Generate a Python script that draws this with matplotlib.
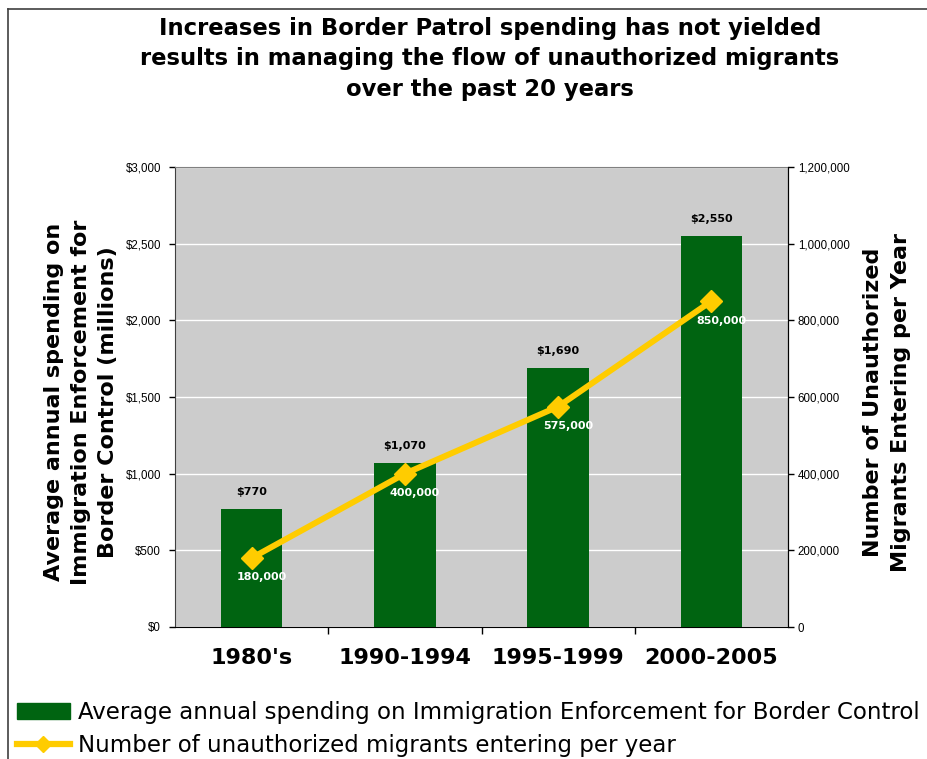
import matplotlib
matplotlib.use("Agg")
import matplotlib.pyplot as plt
from matplotlib.lines import Line2D
from matplotlib.ticker import FuncFormatter

# chart data
periods = ["1980's", "1990-1994", "1995-1999", "2000-2005"]
spending = [770, 1070, 1690, 2550]          # millions of dollars
migrants = [180000, 400000, 575000, 850000]  # per year

bar_color = "#006411"
line_color = "#FFCC00"

fig = plt.figure(figsize=(9.27, 7.59), dpi=100)
ax = fig.add_axes([175 / 927, 1 - 627 / 759, (788 - 175) / 927, (627 - 167) / 759])
ax2 = ax.twinx()

# bars (spending)
x = list(range(len(periods)))
ax.bar(x, spending, width=0.4, color=bar_color, zorder=3)
ax.set_facecolor("#CCCCCC")
ax.set_ylim(0, 3000)
ax.set_xlim(-0.5, len(periods) - 0.5)
ax.set_yticks(range(0, 3001, 500))
ax.yaxis.set_major_formatter(FuncFormatter(lambda v, p: f"${v:,.0f}"))
ax.grid(axis="y", color="white", linewidth=1, zorder=1)
ax.set_axisbelow(True)
for lbl in ax.get_yticklabels():
    lbl.set_fontfamily("Liberation Sans")
    lbl.set_fontsize(8.3)
ax.tick_params(axis="y", length=4, width=1, pad=6)

# category ticks at boundaries, labels in centres
ax.set_xticks([i + 0.5 for i in x[:-1]])
ax.set_xticklabels([])
ax.set_xticks(x, minor=True)
ax.set_xticklabels(periods, minor=True, fontfamily="DejaVu Sans",
                   fontweight="bold", fontsize=16)
ax.tick_params(axis="x", which="major", length=5, width=1)
ax.tick_params(axis="x", which="minor", length=0, pad=15)

ax.spines["top"].set_color("#808080")
ax.spines["left"].set_color("#404040")
for s in ["bottom", "right"]:
    ax.spines[s].set_color("black")

for xi, v in zip(x, spending):
    ax.text(xi, v + 75, f"${v:,}", ha="center", va="bottom",
            fontfamily="DejaVu Sans", fontweight="bold", fontsize=8)

ax.set_ylabel("Average annual spending on\nImmigration Enforcement for\nBorder Control (millions)",
              fontfamily="DejaVu Sans", fontweight="bold", fontsize=16,
              linespacing=1.46, va="center", ha="center")
ax.yaxis.set_label_coords((81 - 175) / 613, (627 - 402) / 460)

# line (migrants)
ax2.plot(x, migrants, color=line_color, linewidth=4.3, marker="D",
         markersize=11, zorder=5)
ax2.set_ylim(0, 1200000)
ax2.set_yticks(range(0, 1200001, 200000))
ax2.yaxis.set_major_formatter(FuncFormatter(lambda v, p: f"{v:,.0f}"))
for lbl in ax2.get_yticklabels():
    lbl.set_fontfamily("Liberation Sans")
    lbl.set_fontsize(8.3)
ax2.tick_params(axis="y", length=4, width=1, pad=3)
for s in ["top", "left", "bottom"]:
    ax2.spines[s].set_visible(False)
ax2.spines["right"].set_color("black")

for xi, v in zip(x, migrants):
    ax2.annotate(f"{v:,}", (xi, v), xytext=(7, -14), textcoords="offset points",
                 ha="center", va="center", color="white",
                 fontfamily="DejaVu Sans", fontweight="bold", fontsize=8)

ax2.set_ylabel("Number of Unauthorized\nMigrants Entering per Year",
               fontfamily="DejaVu Sans", fontweight="bold", fontsize=16,
               linespacing=1.46, rotation=90, va="center", ha="center")
ax2.yaxis.set_label_coords((887 - 175) / 613, (627 - 402) / 460)

fig.suptitle("Increases in Border Patrol spending has not yielded\n"
             "results in managing the flow of unauthorized migrants\n"
             "over the past 20 years",
             x=490 / 927, y=1 - 17 / 759, va="top",
             fontfamily="DejaVu Sans", fontweight="bold", fontsize=16.3,
             linespacing=1.41)

# legend
handles = [
    plt.Rectangle((0, 0), 1, 1, color=bar_color),
    Line2D([0], [0], color=line_color, linewidth=4.5, marker="D", markersize=8),
]
fig.legend(handles,
           ["Average annual spending on Immigration Enforcement for Border Control",
            "Number of unauthorized migrants entering per year"],
           loc="upper left", bbox_to_anchor=(17 / 927, 1 - 701 / 759), frameon=False,
           prop={"family": "DejaVu Sans", "size": 16.5},
           handlelength=2.3, handleheight=0.75, handletextpad=0.35,
           labelspacing=0.45, borderaxespad=0, borderpad=0)

# chart-area border (top and left edges)
fig.add_artist(Line2D([8 / 927, 1], [1 - 9 / 759, 1 - 9 / 759],
                      color="#404040", linewidth=1.2, transform=fig.transFigure))
fig.add_artist(Line2D([8 / 927, 8 / 927], [0, 1 - 9 / 759],
                      color="#404040", linewidth=1.2, transform=fig.transFigure))

fig.savefig("out.png", dpi=100)
